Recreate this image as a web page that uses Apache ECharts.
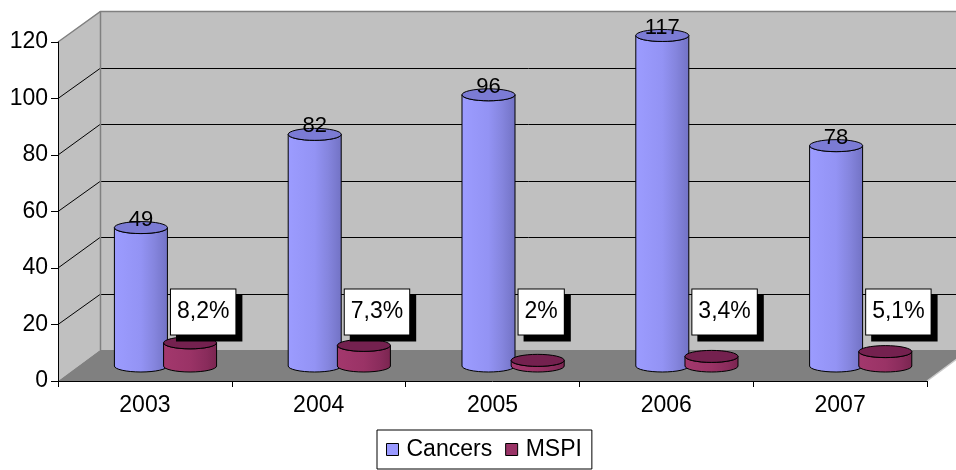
<!DOCTYPE html>
<html>
<head>
<meta charset="utf-8">
<script src="https://cdn.jsdelivr.net/npm/echarts@6/dist/echarts.min.js"></script>
<style>
  html, body { margin: 0; padding: 0; background: #ffffff; }
  #chart { width: 956px; height: 470px; }
</style>
</head>
<body>
<div id="chart"></div>
<script>
// Yearly counts and MSPI rates
const years = ['2003', '2004', '2005', '2006', '2007'];
const cancers = [49, 82, 96, 117, 78];
const mspi = [8.2, 7.3, 2, 3.4, 5.1];
const yTicks = [0, 20, 40, 60, 80, 100, 120];

const FONT = '"Liberation Sans", Arial, sans-serif';

// Pseudo-3D box: walls are pushed back by this offset
const DEPTH_X = 42;
const DEPTH_Y = 31;
// Columns stand a little behind the front edge of the floor
const LIFT = 9;
const RY = 6;

const crisp = (v) => Math.round(v) + 0.5;

function renderFrame(params, api) {
  const cs = params.coordSys;
  const x0 = cs.x;
  const x1 = cs.x + cs.width;
  const yTop = api.coord([0, yTicks[yTicks.length - 1]])[1];
  const yBase = api.coord([0, 0])[1];
  const bx0 = x0 + DEPTH_X;
  const bx1 = x1 + DEPTH_X;
  const children = [];

  // back wall
  children.push({
    type: 'rect',
    shape: { x: bx0, y: yTop - DEPTH_Y, width: bx1 - bx0, height: yBase - yTop },
    style: { fill: '#c0c0c0' }
  });
  // left side wall
  children.push({
    type: 'polygon',
    shape: { points: [[x0, yTop], [bx0, yTop - DEPTH_Y], [bx0, yBase - DEPTH_Y], [x0, yBase]] },
    style: { fill: '#c0c0c0' }
  });
  // floor
  children.push({
    type: 'polygon',
    shape: { points: [[x0, yBase], [x1, yBase], [bx1, yBase - DEPTH_Y], [bx0, yBase - DEPTH_Y]] },
    style: { fill: '#808080' }
  });
  // grid lines running along side wall and back wall
  yTicks.forEach((v) => {
    if (v === yTicks[0] || v === yTicks[yTicks.length - 1]) return;
    const y = api.coord([0, v])[1];
    children.push({
      type: 'polyline',
      shape: { points: [[x0, y], [bx0, crisp(y - DEPTH_Y)], [bx1, crisp(y - DEPTH_Y)]] },
      style: { stroke: '#000000', lineWidth: 1, fill: null }
    });
  });
  // wall edges
  children.push({
    type: 'polyline',
    shape: { points: [[x0, yTop], [crisp(bx0), crisp(yTop - DEPTH_Y)], [bx1, crisp(yTop - DEPTH_Y)]] },
    style: { stroke: '#808080', lineWidth: 1.5, fill: null }
  });
  children.push({
    type: 'line',
    shape: { x1: crisp(bx0), y1: yTop - DEPTH_Y, x2: crisp(bx0), y2: yBase - DEPTH_Y },
    style: { stroke: '#808080', lineWidth: 1.5 }
  });
  children.push({
    type: 'line',
    shape: { x1: x1, y1: yBase, x2: bx1, y2: yBase - DEPTH_Y },
    style: { stroke: '#c8c8c8', lineWidth: 1.5 }
  });
  return { type: 'group', children: children };
}

function cylinderRenderer(cfg) {
  return function (params, api) {
    const i = api.value(0);
    const v = api.value(1);
    const base = api.coord([i, 0]);
    const top = api.coord([i, v]);
    const band = api.size([1, 0])[0];
    const w = band * 0.305;
    const cx = base[0] + band * cfg.offset;
    const rx = w / 2;
    const l = cx - rx;
    const r = cx + rx;
    const yb = base[1] - LIFT - RY;   // centre of bottom ellipse
    const yt = top[1] - LIFT - RY;    // centre of top ellipse

    const body =
      'M' + l + ',' + yt +
      ' L' + l + ',' + yb +
      ' A' + rx + ',' + RY + ' 0 0 0 ' + r + ',' + yb +
      ' L' + r + ',' + yt +
      ' A' + rx + ',' + RY + ' 0 0 1 ' + l + ',' + yt + ' Z';
    const cap =
      'M' + l + ',' + yt +
      ' A' + rx + ',' + RY + ' 0 0 1 ' + r + ',' + yt +
      ' A' + rx + ',' + RY + ' 0 0 1 ' + l + ',' + yt + ' Z';

    const children = [
      {
        type: 'path',
        shape: { pathData: body },
        style: {
          fill: new echarts.graphic.LinearGradient(0, 0, 1, 0, cfg.bodyStops),
          stroke: '#000000',
          lineWidth: 1
        }
      },
      {
        type: 'path',
        shape: { pathData: cap },
        style: { fill: cfg.capColor, stroke: '#000000', lineWidth: 1 }
      }
    ];
    cfg.label(children, api, i, v, cx, yt, base, band);
    return { type: 'group', children: children };
  };
}

function cancersLabel(children, api, i, v, cx, yt) {
  children.push({
    type: 'text',
    x: cx,
    y: yt - 8,
    style: {
      text: String(v),
      fill: '#000000',
      font: '22px ' + FONT,
      align: 'center',
      verticalAlign: 'middle'
    }
  });
}

function mspiLabel(children, api, i, v, cx, yt, base, band) {
  const text = String(v).replace('.', ',') + '%';
  const lx = base[0] + band * 0.15;
  const ly = base[1] - 69;
  const boxStyle = {
    text: text,
    font: '23px ' + FONT,
    align: 'left',
    verticalAlign: 'middle',
    lineHeight: 25,
    padding: [10, 6, 10, 6],
    borderWidth: 1
  };
  // drop shadow behind the box
  children.push({
    type: 'text',
    x: lx + 6,
    y: ly + 6,
    style: Object.assign({}, boxStyle, { fill: '#000000', backgroundColor: '#000000', borderColor: '#000000' })
  });
  children.push({
    type: 'text',
    x: lx,
    y: ly,
    style: Object.assign({}, boxStyle, { fill: '#000000', backgroundColor: '#ffffff', borderColor: '#000000' })
  });
}

const chart = echarts.init(document.getElementById('chart'), null, { renderer: 'canvas' });

chart.setOption({
  animation: false,
  backgroundColor: '#ffffff',
  textStyle: { fontFamily: FONT },
  grid: { left: 58, right: 29, top: 42, bottom: 89, containLabel: false },
  legend: {
    data: ['Cancers', 'MSPI'],
    left: 377,
    top: 430,
    orient: 'horizontal',
    borderColor: '#000000',
    borderWidth: 1,
    padding: [8, 10, 8, 9],
    itemWidth: 12,
    itemHeight: 12,
    itemGap: 13,
    icon: 'rect',
    selectedMode: false,
    itemStyle: { borderColor: '#000000', borderWidth: 1 },
    textStyle: { fontSize: 23, fontFamily: FONT, color: '#000000', padding: [0, 0, 0, 3] }
  },
  xAxis: {
    type: 'category',
    data: years,
    boundaryGap: true,
    axisLine: { show: true, lineStyle: { color: '#000000', width: 1 } },
    axisTick: { show: true, length: 6, lineStyle: { color: '#000000' } },
    axisLabel: { fontSize: 23, fontFamily: FONT, color: '#000000', margin: 13 },
    splitLine: { show: false }
  },
  yAxis: {
    type: 'value',
    min: yTicks[0],
    max: yTicks[yTicks.length - 1],
    interval: yTicks[1] - yTicks[0],
    axisLine: { show: true, lineStyle: { color: '#000000', width: 1 } },
    axisTick: { show: true, length: 7, lineStyle: { color: '#000000' } },
    axisLabel: { fontSize: 23, fontFamily: FONT, color: '#000000', margin: 10 },
    splitLine: { show: false }
  },
  series: [
    {
      name: 'frame',
      type: 'custom',
      z: -1,
      silent: true,
      renderItem: renderFrame,
      data: [[0, 0]],
      encode: { x: 0, y: 1 }
    },
    {
      name: 'Cancers',
      type: 'custom',
      itemStyle: { color: '#9999ff' },
      renderItem: cylinderRenderer({
        offset: -0.023,
        capColor: '#7b7bd4',
        bodyStops: [
          { offset: 0, color: '#9c9cff' },
          { offset: 0.5, color: '#9393f4' },
          { offset: 0.75, color: '#8585de' },
          { offset: 1, color: '#7272c4' }
        ],
        label: cancersLabel
      }),
      data: cancers.map((v, i) => [i, v]),
      encode: { x: 0, y: 1 }
    },
    {
      name: 'MSPI',
      type: 'custom',
      itemStyle: { color: '#993366' },
      renderItem: cylinderRenderer({
        offset: 0.26,
        capColor: '#74214f',
        bodyStops: [
          { offset: 0, color: '#a3386d' },
          { offset: 0.5, color: '#9a3366' },
          { offset: 0.8, color: '#8a2c5c' },
          { offset: 1, color: '#7a2550' }
        ],
        label: mspiLabel
      }),
      data: mspi.map((v, i) => [i, v]),
      encode: { x: 0, y: 1 }
    }
  ]
});
</script>
</body>
</html>
